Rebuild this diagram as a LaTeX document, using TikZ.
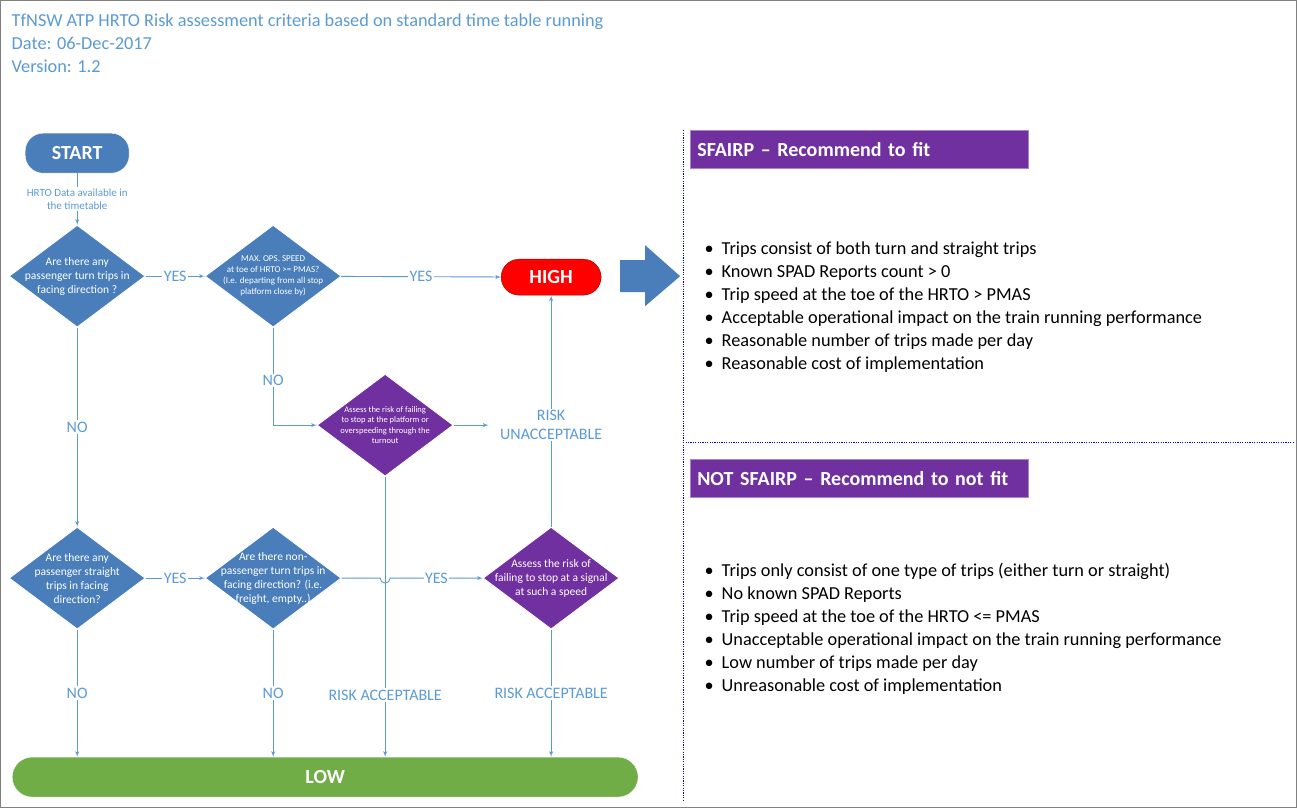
\documentclass[tikz,border=0pt]{standalone}
\usepackage{fontspec}
\setmainfont{Carlito}
\usetikzlibrary{arrows,shapes.geometric,calc}
\definecolor{lineblue}{RGB}{91,155,213}
\definecolor{boxblue}{RGB}{74,126,187}
\definecolor{boxpurple}{RGB}{112,48,160}
\definecolor{boxgreen}{RGB}{112,173,71}
\hyphenpenalty=10000
\begin{document}
\begin{tikzpicture}[x=1pt,y=-1pt]
        \tikzset{decision/.style = {shape=diamond,draw=white,line width=0.8pt,fill=boxblue,inner sep=0pt,
            minimum width=136pt,minimum height=102pt}}
        \tikzset{assess/.style = {decision,fill=boxpurple}}
        \tikzset{qtext/.style = {text=white,align=center,font=\fontsize{11.5}{14}\selectfont}}
        \tikzset{smalltext/.style = {qtext,font=\fontsize{9}{11}\selectfont}}
        \tikzset{terminal/.style = {shape=rectangle,rounded corners=18pt,draw=white,text=white,font=\fontsize{20}{22}\bfseries\selectfont}}
        \tikzset{edge/.style = {->,> = latex',draw=lineblue,line width=0.9pt}}
        \tikzset{flow/.style = {draw=lineblue,line width=0.9pt}}
        \tikzset{answer/.style = {fill=white,text=lineblue,inner sep=1.5pt,font=\fontsize{16}{19}\selectfont}}
        \tikzset{header/.style = {fill=boxpurple,draw=boxpurple!60,text=white,anchor=west,minimum width=338pt,minimum height=38pt,
            text width=324pt,font=\fontsize{20}{22}\bfseries\selectfont}}

        % frame and title
        \draw[gray, fill=white] (0,0) rectangle (1296,807);
        \node[anchor=west, text=lineblue, align=left, font=\fontsize{18.3}{23}\selectfont] (title) at (8,43)
            {TfNSW ATP HRTO Risk assessment criteria based on standard time table running\\Date: 06-Dec-2017\\Version: 1.2};

        % nodes
        \node[terminal, fill=boxblue, minimum width=104pt, minimum height=40pt] (start) at (77,153) {START};
        \node[decision, label={[qtext]center:Are there any\\passenger turn trips in\\facing direction ?}] (q1) at (77,276) {};
        \node[decision, label={[smalltext]center:MAX. OPS. SPEED\\at toe of HRTO >= PMAS?\\(I.e. departing from all stop\\platform close by)}] (q2) at (273,276) {};
        \node[terminal, fill=red, draw=red!60!black, minimum width=100pt, minimum height=36pt] (high) at (551,277) {HIGH};
        \node[assess, label={[smalltext, font=\fontsize{8.5}{10.5}\selectfont]center:Assess the risk of failing\\to stop at the platform or\\overspeeding through the\\turnout}] (a1) at (385,425) {};
        \node[decision, label={[qtext]center:Are there any\\passenger straight\\trips in facing\\direction?}] (q3) at (77,578) {};
        \node[decision, label={[qtext]center:Are there non-\\passenger turn trips in\\facing direction? (i.e.\\freight, empty..)}] (q4) at (273,578) {};
        \node[assess, label={[qtext]center:Assess the risk of\\failing to stop at a signal\\at such a speed}] (a2) at (551,578) {};
        \node[terminal, fill=boxgreen, rounded corners=20pt, minimum width=626pt, minimum height=40pt] (low) at (325,777) {LOW};
        \coordinate (ru) at (551,425);

        %edges
        \draw[edge] (start) -- node[answer, font=\fontsize{11}{13}\selectfont, align=center] {HRTO Data available in\\the timetable} (q1);
        \draw[edge] (q1) -- node[answer] {YES} (q2);
        \draw[edge] (q2) -- node[answer] {YES} (high);
        \draw[edge] (q2) |- node[answer, pos=0.27] {NO} (a1);
        \draw[edge] (a1) -- ($(a1.east)+(35,0)$);
        \draw[flow] (a2) -- (ru);
        \draw[edge] (ru) -- (high);
        \node[answer, align=center] (unacc) at (ru) {RISK\\UNACCEPTABLE};
        \draw[edge] (q1) -- node[answer] {NO} (q3);
        \draw[edge] (q3) -- node[answer] {YES} (q4);
        \draw[edge] (q4.east) -- ($(a1.south |- q4.east)+(-5,0)$) arc (180:0:5) -- node[answer] {YES} (a2);
        \draw[edge] (q3) -- node[answer, pos=0.5] {NO} (q3 |- low.north);
        \draw[edge] (q4) -- node[answer, pos=0.5] {NO} (q4 |- low.north);
        \draw[edge] (a1) -- node[answer, pos=0.78] {RISK ACCEPTABLE} (a1 |- low.north);
        \draw[edge] (a2) -- node[answer, pos=0.5] {RISK ACCEPTABLE} (a2 |- low.north);

        % outcome panel
        \fill[boxblue] (620,260) -- (645,260) -- (645,245) -- (680,276) -- (645,306) -- (645,292) -- (620,292) -- cycle;
        \draw[blue, dash pattern=on 1.2pt off 1.2pt, line width=1pt] (683,130) -- (683,800);
        \draw[blue, dash pattern=on 1.2pt off 1.2pt, line width=1pt] (683,442) -- (1293,442);
        \node[header] (fit) at (690,149) {SFAIRP -- Recommend to fit};
        \node[header] (nofit) at (690,478) {NOT SFAIRP -- Recommend to not fit};
        \node[anchor=north west, align=left, font=\fontsize{18.3}{23}\selectfont] (fitlist) at (701,238) {%
            \textbullet\hspace{8pt}Trips consist of both turn and straight trips\\
            \textbullet\hspace{8pt}Known SPAD Reports count > 0\\
            \textbullet\hspace{8pt}Trip speed at the toe of the HRTO > PMAS\\
            \textbullet\hspace{8pt}Acceptable operational impact on the train running performance\\
            \textbullet\hspace{8pt}Reasonable number of trips made per day\\
            \textbullet\hspace{8pt}Reasonable cost of implementation};
        \node[anchor=north west, align=left, font=\fontsize{18.3}{23}\selectfont] (nofitlist) at (701,559) {%
            \textbullet\hspace{8pt}Trips only consist of one type of trips (either turn or straight)\\
            \textbullet\hspace{8pt}No known SPAD Reports\\
            \textbullet\hspace{8pt}Trip speed at the toe of the HRTO <= PMAS\\
            \textbullet\hspace{8pt}Unacceptable operational impact on the train running performance\\
            \textbullet\hspace{8pt}Low number of trips made per day\\
            \textbullet\hspace{8pt}Unreasonable cost of implementation};
        \useasboundingbox (0,0) rectangle (1297,808);
\end{tikzpicture}
\end{document}
